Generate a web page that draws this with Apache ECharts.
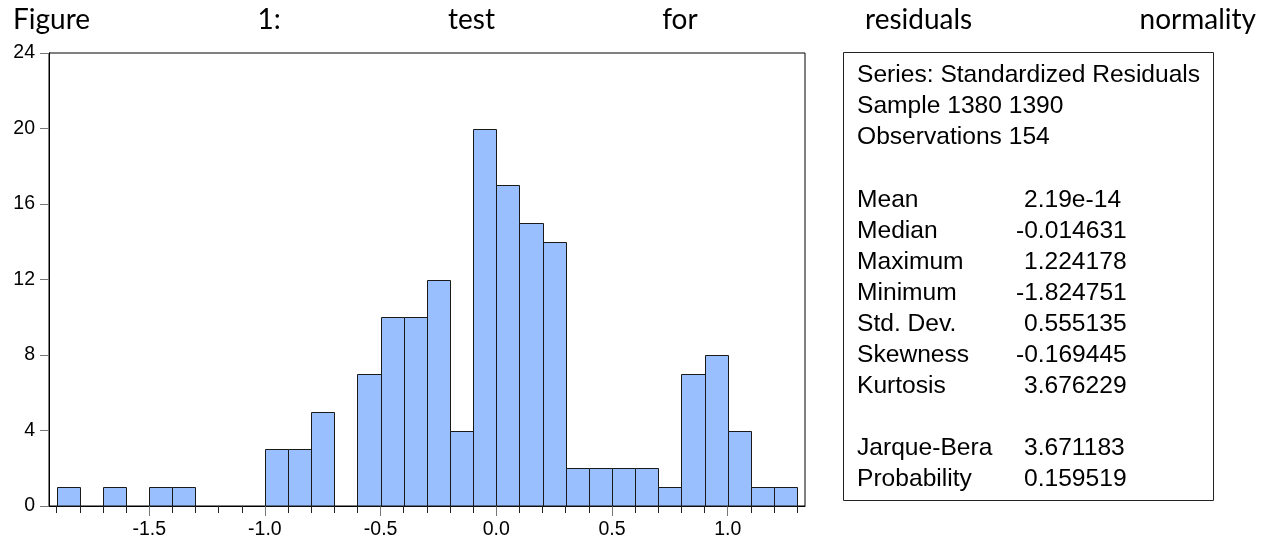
<!DOCTYPE html>
<html>
<head>
<meta charset="utf-8">
<script src="https://cdn.jsdelivr.net/npm/echarts@6/dist/echarts.min.js"></script>
<style>
html, body { margin: 0; padding: 0; background: #fff; }
#hist { width: 1270px; height: 542px; }
</style>
</head>
<body>
<div id="hist"></div>
<script>
// histogram data (bin start, count), bin width 0.1
var binWidth = 0.1;
var binStarts = [-1.9, -1.8, -1.7, -1.6, -1.5, -1.4, -1.3, -1.2, -1.1, -1.0, -0.9, -0.8, -0.7, -0.6, -0.5, -0.4,
                 -0.3, -0.2, -0.1, 0.0, 0.1, 0.2, 0.3, 0.4, 0.5, 0.6, 0.7, 0.8, 0.9, 1.0, 1.1, 1.2];
var binCounts = [1, 0, 1, 0, 1, 1, 0, 0, 0, 3, 3, 5, 0, 7, 10, 10,
                 12, 4, 20, 17, 15, 14, 2, 2, 2, 2, 1, 7, 8, 4, 1, 1];

var xTickValues = [-1.9, -1.8, -1.7, -1.6, -1.5, -1.4, -1.3, -1.2, -1.1, -1.0, -0.9, -0.8, -0.7, -0.6, -0.5, -0.4, -0.3,
                   -0.2, -0.1, 0.0, 0.1, 0.2, 0.3, 0.4, 0.5, 0.6, 0.7, 0.8, 0.9, 1.0, 1.1, 1.2, 1.3];
var xLabelValues = [-1.5, -1.0, -0.5, 0.0, 0.5, 1.0];
var xMin = -1.933, xMax = 1.334;
var yMin = 0, yMax = 24, yStep = 4;

var titleWords = ['Figure', '1:', 'test', 'for', 'residuals', 'normality'];
var headerLines = ['Series: Standardized Residuals', 'Sample 1380 1390', 'Observations 154'];
var statNames = ['Mean', 'Median', 'Maximum', 'Minimum', 'Std. Dev.', 'Skewness', 'Kurtosis', '', 'Jarque-Bera', 'Probability'];
var statValues = ['2.19e-14', '-0.014631', '1.224178', '-1.824751', '0.555135', '-0.169445', '3.676229', '', '3.671183', '0.159519'];

var axisFont = 'Liberation Sans, Arial, sans-serif';
var titleFont = 'Lato, Open Sans, sans-serif';

var dom = document.getElementById('hist');
var chart = echarts.init(dom);

// justified title line: measure words, share leftover space equally
var graphics = [];
var ctx = document.createElement('canvas').getContext('2d');
ctx.font = '28px ' + titleFont;
var widths = titleWords.map(function (w) { return ctx.measureText(w).width; });
var total = widths.reduce(function (a, b) { return a + b; }, 0);
var left = 13, right = 1256;
var gap = (right - left - total) / (titleWords.length - 1);
var cx = left;
titleWords.forEach(function (w, i) {
    graphics.push({
        type: 'text', x: cx, y: 20,
        style: { text: w, fill: '#000', fontSize: 28, fontFamily: titleFont, textAlign: 'left', textVerticalAlign: 'middle' }
    });
    cx += widths[i] + gap;
});

// stats box
graphics.push({
    type: 'rect', shape: { x: 843.5, y: 52.5, width: 370, height: 448 },
    style: { fill: '#fff', stroke: '#222', lineWidth: 1 }
});
var rowY = function (i) { return 75.5 + i * 31; };
var statFont = 24.6;
headerLines.forEach(function (t, i) {
    graphics.push({
        type: 'text', x: 857, y: rowY(i),
        style: { text: t, fill: '#000', fontSize: statFont, fontFamily: axisFont, textVerticalAlign: 'middle' }
    });
});
statNames.forEach(function (t, i) {
    if (!t) return;
    graphics.push({
        type: 'text', x: 857, y: rowY(i + 4) + 1,
        style: { text: t, fill: '#000', fontSize: statFont, fontFamily: axisFont, textVerticalAlign: 'middle' }
    });
    var v = statValues[i];
    graphics.push({
        type: 'text', x: v.charAt(0) === '-' ? 1016 : 1024, y: rowY(i + 4) + 1,
        style: { text: v, fill: '#000', fontSize: statFont, fontFamily: axisFont, textVerticalAlign: 'middle' }
    });
});

var option = {
    animation: false,
    backgroundColor: '#fff',
    grid: {
        left: 49, right: 465, top: 53, bottom: 36,
        show: true, borderColor: '#000', borderWidth: 1, backgroundColor: 'transparent'
    },
    xAxis: [{
        type: 'value', min: xMin, max: xMax,
        axisLine: { show: true, onZero: false, lineStyle: { color: '#000', width: 1 } },
        axisTick: { show: true, customValues: xTickValues, length: 7, lineStyle: { color: '#222' } },
        axisLabel: {
            customValues: xLabelValues, margin: 14,
            color: '#000', fontSize: 19.5, fontFamily: axisFont,
            formatter: function (v) { return v.toFixed(1); }
        },
        splitLine: { show: false }
    }, {
        type: 'value', min: xMin, max: xMax, position: 'bottom',
        axisLine: { show: false, onZero: false },
        axisTick: { show: true, customValues: xLabelValues, length: 10, lineStyle: { color: '#777' } },
        axisLabel: { show: false },
        splitLine: { show: false }
    }],
    yAxis: {
        type: 'value', min: yMin, max: yMax, interval: yStep,
        axisLine: { show: true, onZero: false, lineStyle: { color: '#000', width: 1 } },
        axisTick: { show: true, length: 9, lineStyle: { color: '#777' } },
        axisLabel: { color: '#000', fontSize: 19.5, fontFamily: axisFont, margin: 14 },
        splitLine: { show: false }
    },
    series: [{
        type: 'custom',
        xAxisIndex: 0,
        data: binStarts.map(function (s, i) { return [s, binCounts[i]]; }),
        encode: { x: 0, y: 1 },
        renderItem: function (params, api) {
            var x0 = api.value(0), h = api.value(1);
            if (!h) return null;
            var p0 = api.coord([x0, h]);
            var p1 = api.coord([x0 + binWidth, 0]);
            var xa = Math.round(p0[0]) + 0.5, xb = Math.round(p1[0]) + 0.5;
            var ya = Math.round(p0[1]) + 0.5, yb = Math.round(p1[1]);
            return {
                type: 'rect',
                shape: { x: xa, y: ya, width: xb - xa, height: yb - ya },
                style: { fill: '#99BFFF', stroke: '#1a1a1a', lineWidth: 1 }
            };
        }
    }],
    graphic: graphics
};

if (option && typeof option === 'object') {
    chart.setOption(option, true);
}
</script>
</body>
</html>
